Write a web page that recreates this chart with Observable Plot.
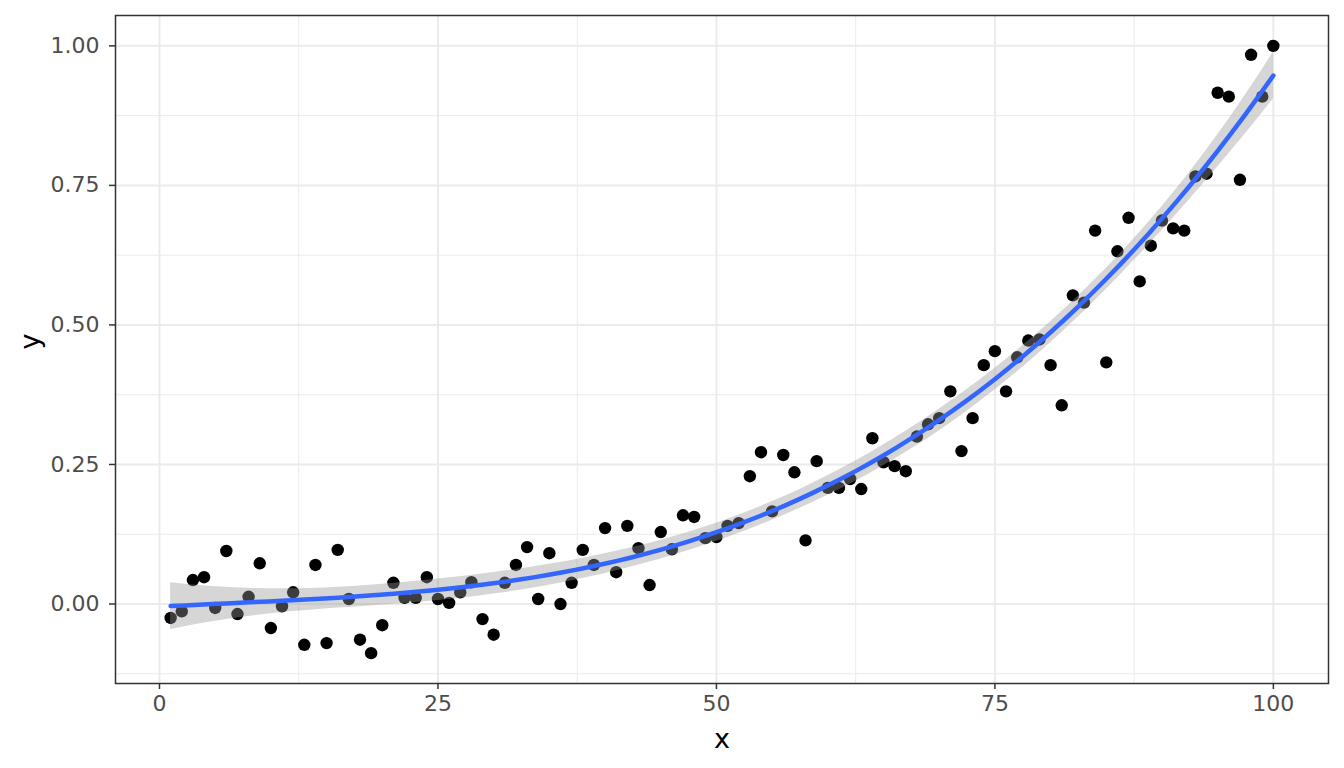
<!DOCTYPE html>
<html>
<head>
<meta charset="utf-8">
<script src="https://cdn.jsdelivr.net/npm/d3@7"></script>
<script src="https://cdn.jsdelivr.net/npm/@observablehq/plot@0.6"></script>
<style>
  html, body { margin: 0; padding: 0; background: white; }
  #chart { width: 1344px; height: 768px; }
</style>
</head>
<body>
<div id="chart"></div>
<script>
// valores (x = 1..100)
const xVals = d3.range(1, 101);
const yVals = [
  -0.025, -0.013, 0.043, 0.048, -0.007, 0.095, -0.018, 0.013, 0.073, -0.043,
  -0.004, 0.021, -0.073, 0.070, -0.070, 0.097, 0.009, -0.064, -0.088, -0.038,
  0.038, 0.011, 0.011, 0.048, 0.009, 0.002, 0.021, 0.039, -0.027, -0.055,
  0.038, 0.070, 0.102, 0.009, 0.091, 0.000, 0.038, 0.097, 0.070, 0.136,
  0.057, 0.140, 0.100, 0.034, 0.129, 0.098, 0.159, 0.156, 0.118, 0.120,
  0.140, 0.145, 0.229, 0.272, 0.166, 0.267, 0.236, 0.114, 0.256, 0.208,
  0.208, 0.224, 0.206, 0.297, 0.254, 0.247, 0.238, 0.300, 0.322, 0.333,
  0.381, 0.274, 0.333, 0.428, 0.453, 0.381, 0.442, 0.472, 0.474, 0.428,
  0.356, 0.553, 0.540, 0.669, 0.433, 0.632, 0.692, 0.578, 0.642, 0.687,
  0.673, 0.669, 0.766, 0.771, 0.916, 0.909, 0.760, 0.984, 0.909, 1.000
];
const xMajor = [0, 25, 50, 75, 100];
const xMinor = [12.5, 37.5, 62.5, 87.5];
const yMajor = [0, 0.25, 0.5, 0.75, 1];
const yMinor = [-0.125, 0.125, 0.375, 0.625, 0.875];

const data = xVals.map((x, i) => ({x, y: yVals[i]}));

// ajuste polinomico (cubico) con intervalo de confianza 95%
const n = data.length, p = 4;
const basis = (x) => { const u = (x - 50.5) / 50; return [1, u, u * u, u * u * u]; };
const XtX = d3.range(p).map(() => new Array(p).fill(0));
const Xty = new Array(p).fill(0);
data.forEach((d) => {
  const b = basis(d.x);
  for (let i = 0; i < p; i++) {
    Xty[i] += b[i] * d.y;
    for (let j = 0; j < p; j++) XtX[i][j] += b[i] * b[j];
  }
});
function invert(m) {
  const k = m.length;
  const a = m.map((row, i) => [...row, ...d3.range(k).map((j) => (i === j ? 1 : 0))]);
  for (let c = 0; c < k; c++) {
    let piv = c;
    for (let r = c + 1; r < k; r++) if (Math.abs(a[r][c]) > Math.abs(a[piv][c])) piv = r;
    [a[c], a[piv]] = [a[piv], a[c]];
    const v = a[c][c];
    for (let j = 0; j < 2 * k; j++) a[c][j] /= v;
    for (let r = 0; r < k; r++) {
      if (r === c) continue;
      const f = a[r][c];
      for (let j = 0; j < 2 * k; j++) a[r][j] -= f * a[c][j];
    }
  }
  return a.map((row) => row.slice(k));
}
const inv = invert(XtX);
const beta = inv.map((row) => d3.sum(row, (v, j) => v * Xty[j]));
const pred = (x) => d3.sum(basis(x), (v, i) => v * beta[i]);
const rss = d3.sum(data, (d) => (d.y - pred(d.x)) ** 2);
const sigma2 = rss / (n - p);
const tval = 1.985;
const fit = d3.range(80).map((i) => {
  const x = 1 + (99 * i) / 79;
  const b = basis(x);
  let q = 0;
  for (let r = 0; r < p; r++) for (let c = 0; c < p; c++) q += b[r] * inv[r][c] * b[c];
  const se = Math.sqrt(sigma2 * q);
  const f = pred(x);
  return {x, fit: f, lo: f - tval * se, hi: f + tval * se};
});

const chart = Plot.plot({
  width: 1344,
  height: 768,
  marginLeft: 115,
  marginRight: 16,
  marginTop: 15,
  marginBottom: 85,
  style: {fontFamily: "DejaVu Sans", background: "white"},
  x: {domain: [-3.95, 104.95]},
  y: {domain: [-0.1424, 1.0544]},
  marks: [
    Plot.gridX(xMinor, {stroke: "#EBEBEB", strokeOpacity: 1, strokeWidth: 1}),
    Plot.gridY(yMinor, {stroke: "#EBEBEB", strokeOpacity: 1, strokeWidth: 1}),
    Plot.gridX(xMajor, {stroke: "#EBEBEB", strokeOpacity: 1, strokeWidth: 2}),
    Plot.gridY(yMajor, {stroke: "#EBEBEB", strokeOpacity: 1, strokeWidth: 2}),
    Plot.dot(data, {x: "x", y: "y", r: 6.2, fill: "black", stroke: null}),
    Plot.areaY(fit, {x: "x", y1: "lo", y2: "hi", fill: "#999999", fillOpacity: 0.4}),
    Plot.line(fit, {x: "x", y: "fit", stroke: "#3366FF", strokeWidth: 4.5}),
    Plot.frame({stroke: "#333333", strokeWidth: 1.5}),
    Plot.axisX(xMajor, {tickSize: 6, tickPadding: 6, fontSize: 22, fill: "#4D4D4D", stroke: "#333333", strokeWidth: 1.5, label: null}),
    Plot.axisY(yMajor, {tickSize: 6, tickPadding: 10, fontSize: 22, fill: "#4D4D4D", stroke: "#333333", strokeWidth: 1.5, tickFormat: d3.format(".2f"), label: null}),
    Plot.text(["x"], {frameAnchor: "bottom", dy: 56, text: (d) => d, fontSize: 27, fill: "black", lineAnchor: "middle"}),
    Plot.text(["y"], {frameAnchor: "left", dx: -85, text: (d) => d, fontSize: 27, fill: "black", rotate: -90, lineAnchor: "middle"})
  ]
});

document.getElementById("chart").append(chart);
</script>
</body>
</html>
